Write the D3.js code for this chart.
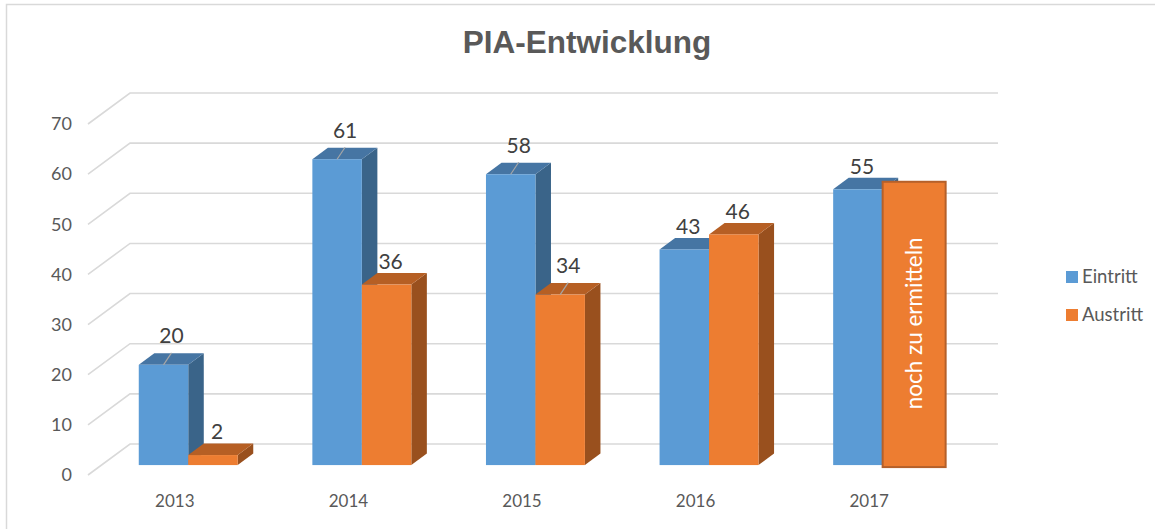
<!DOCTYPE html>
<html>
<head>
<meta charset="utf-8">
<script src="https://cdn.jsdelivr.net/npm/d3@7"></script>
<style>
  html, body { margin: 0; padding: 0; background: #fff; }
  svg { display: block; }
</style>
</head>
<body>
<div id="chart"></div>
<script>
// PIA-Entwicklung, 3D clustered columns

const years = ['2013', '2014', '2015', '2016', '2017'];
const eintritt = [20, 61, 58, 43, 55];
const austritt = [2, 36, 34, 46, null];   // 2017 not known yet
const seriesNames = ['Eintritt', 'Austritt'];
const yTicks = [0, 10, 20, 30, 40, 50, 60, 70];
const pendingNote = 'noch zu ermitteln';
// labels that Excel moved up and joined with a leader line
const leaderLabels = ['Eintritt-2013', 'Eintritt-2014', 'Eintritt-2015', 'Austritt-2015'];

const width = 1155, height = 529;
const colors = {
  Eintritt: { front: '#5b9bd5', top: '#4675a3', side: '#3a6489' },
  Austritt: { front: '#ed7d31', top: '#b65f24', side: '#99501e' }
};

const svg = d3.select('#chart').append('svg')
  .attr('width', width)
  .attr('height', height)
  .style('font-family', 'Lato, "Noto Sans", sans-serif');

// outer chart frame
svg.append('path')
  .attr('d', `M6.5,${height} V4.5 H${width}`)
  .attr('fill', 'none')
  .attr('stroke', '#d9d9d9')
  .attr('stroke-width', 1.5);

// oblique 3D: depth 0 = front of the floor, 1 = back wall
const DX = 42, DY = 31;
const x = d3.scaleBand().domain(years).range([88, 956]).paddingInner(0.43).paddingOuter(0.215);
const xs = d3.scaleBand().domain(seriesNames).range([0, x.bandwidth()]);
const y = d3.scaleLinear().domain([0, 70]).range([475, 124]);
const proj = (px, v, d) => [px + d * DX, y(v) - d * DY];

// gridlines: diagonal on the side + back wall
const grid = svg.append('g');
yTicks.forEach(t => {
  const a = proj(88, t, 0), b = proj(88, t, 1), c = proj(956, t, 1);
  grid.append('path')
    .attr('d', `M${a[0]},${a[1]} L${b[0]},${b[1]} L${c[0]},${c[1]}`)
    .attr('fill', 'none')
    .attr('stroke', '#d9d9d9')
    .attr('stroke-width', 1.6);
});

// y axis labels
svg.append('g').selectAll('text')
  .data(yTicks)
  .join('text')
  .attr('x', 72)
  .attr('y', d => y(d))
  .attr('dy', '0.35em')
  .attr('text-anchor', 'end')
  .attr('fill', '#595959')
  .style('font-size', '18px')
  .text(d => d);

// x axis labels
svg.append('g').selectAll('text')
  .data(years)
  .join('text')
  .attr('x', d => x(d) + x.bandwidth() / 2)
  .attr('y', 501)
  .attr('dy', '0.35em')
  .attr('text-anchor', 'middle')
  .attr('fill', '#595959')
  .style('font-size', '17px')
  .text(d => d);

// bars
const D0 = 0.32, D1 = 0.69;
const bars = [];
years.forEach((yr, i) => {
  bars.push({ year: yr, series: 'Eintritt', value: eintritt[i] });
  bars.push({ year: yr, series: 'Austritt', value: austritt[i] });
});

const pts = p => p.map(q => q.join(',')).join(' ');
const barG = svg.append('g');
bars.filter(b => b.value != null).forEach(b => {
  const left = x(b.year) + xs(b.series);
  const right = left + xs.bandwidth();
  const fl = proj(left, b.value, D0), fr = proj(right, b.value, D0);
  const bl = proj(left, b.value, D1), br = proj(right, b.value, D1);
  const fr0 = proj(right, 0, D0), br0 = proj(right, 0, D1);
  const fl0 = proj(left, 0, D0);
  const c = colors[b.series];
  barG.append('polygon').attr('points', pts([fr, br, br0, fr0])).attr('fill', c.side);
  barG.append('polygon').attr('points', pts([fl, fr, br, bl])).attr('fill', c.top);
  barG.append('rect')
    .attr('x', fl[0]).attr('y', fl[1])
    .attr('width', fr[0] - fl[0])
    .attr('height', fl0[1] - fl[1])
    .attr('fill', c.front);
});

// data labels
const labG = svg.append('g');
bars.filter(b => b.value != null).forEach(b => {
  const left = x(b.year) + xs(b.series);
  const cx = left + xs.bandwidth() / 2;
  const top = proj(cx, b.value, D0);
  const hasLeader = leaderLabels.includes(b.series + '-' + b.year);
  const off = hasLeader ? 29 : 23;
  const lx = top[0] + (hasLeader ? 8 : 4);
  if (hasLeader) {
    labG.append('line')
      .attr('x1', top[0]).attr('y1', top[1])
      .attr('x2', top[0] + 8).attr('y2', top[1] - 12)
      .attr('stroke', '#a6a6a6')
      .attr('stroke-width', 1.2);
  }
  labG.append('text')
    .attr('x', lx)
    .attr('y', top[1] - off)
    .attr('dy', '0.35em')
    .attr('text-anchor', 'middle')
    .attr('fill', '#404040')
    .style('font-size', '21px')
    .text(b.value);
});

// 2017 Austritt: text box instead of a value
const noteLeft = x('2017') + xs('Austritt');
const noteTop = proj(noteLeft, 56.5, D0);
const noteBot = proj(noteLeft, 0, D0);
const noteW = 63;
svg.append('rect')
  .attr('x', noteTop[0])
  .attr('y', noteTop[1])
  .attr('width', noteW)
  .attr('height', noteBot[1] - noteTop[1] + 2)
  .attr('fill', '#ed7d31')
  .attr('stroke', '#b5602a')
  .attr('stroke-width', 2);
svg.append('text')
  .attr('transform', `translate(${noteTop[0] + noteW / 2},${(noteTop[1] + noteBot[1]) / 2}) rotate(-90)`)
  .attr('dy', '0.35em')
  .attr('text-anchor', 'middle')
  .attr('fill', '#fff')
  .style('font-size', '22.5px')
  .text(pendingNote);

// legend
const legend = svg.append('g').attr('transform', 'translate(1066,271)');
seriesNames.forEach((s, i) => {
  const g = legend.append('g').attr('transform', `translate(0,${i * 38})`);
  g.append('rect').attr('width', 12).attr('height', 12).attr('fill', colors[s].front);
  g.append('text')
    .attr('x', 16).attr('y', 6).attr('dy', '0.35em')
    .attr('fill', '#595959')
    .style('font-size', '18.5px')
    .text(s);
});

// title
svg.append('text')
  .attr('x', 587)
  .attr('y', 53)
  .attr('text-anchor', 'middle')
  .attr('fill', '#595959')
  .style('font-family', '"Liberation Sans", Arial, sans-serif')
  .style('font-weight', 'bold')
  .style('font-size', '31.5px')
  .text('PIA-Entwicklung');
</script>
</body>
</html>
